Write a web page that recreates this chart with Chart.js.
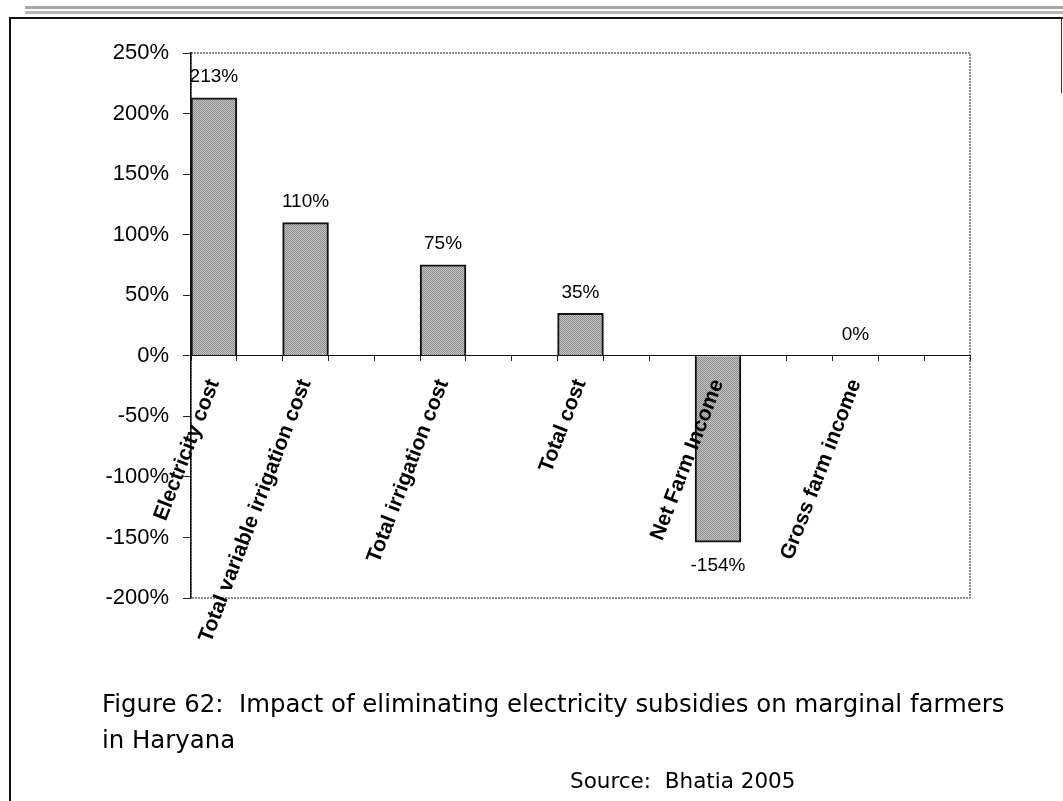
<!DOCTYPE html>
<html>
<head>
<meta charset="utf-8">
<script src="https://cdn.jsdelivr.net/npm/chart.js@4.4.1/dist/chart.umd.min.js"></script>
<style>
  html, body { margin: 0; padding: 0; background: #fff; }
  #wrap { position: relative; width: 1063px; height: 801px; overflow: hidden; }
  #chart { position: absolute; left: 0; top: 0; }
  .scanA { position: absolute; left: 25px; top: 6px; width: 1038px; height: 3px; background: #a5a5a5; }
  .scanB { position: absolute; left: 25px; top: 11px; width: 1038px; height: 3px; background: #b8b8b8; }
  .frameTop { position: absolute; left: 10px; top: 17px; width: 1053px; height: 2px; background: #111; }
  .frameLeft { position: absolute; left: 9px; top: 17px; width: 2px; height: 784px; background: #111; }
  .frameRight { position: absolute; left: 1061px; top: 17px; width: 1px; height: 76px; background: #333; }
  .caption { position: absolute; left: 102px; top: 686px; font-family: "Comic Sans MS", "DejaVu Sans", sans-serif;
             font-size: 24.4px; line-height: 36px; color: #000; white-space: nowrap; }
  .source { position: absolute; left: 570px; top: 768px; font-family: "Comic Sans MS", "DejaVu Sans", sans-serif;
            font-size: 21.5px; color: #000; white-space: nowrap; }
</style>
</head>
<body>
<div id="wrap">
  <div class="scanA"></div>
  <div class="scanB"></div>
  <div class="frameTop"></div>
  <div class="frameLeft"></div>
  <div class="frameRight"></div>
  <canvas id="chart" width="1063" height="801"></canvas>
  <div class="caption">Figure 62:&nbsp; Impact of eliminating electricity subsidies on marginal farmers<br>in Haryana</div>
  <div class="source">Source:&nbsp; Bhatia 2005</div>
</div>
<script>
// 17 category slots on the axis, only some carry a bar
var categories = ["Electricity cost", "", "Total variable irrigation cost", "", "", "Total irrigation cost", "", "",
                  "Total cost", "", "", "Net Farm Income", "", "", "Gross farm income", "", ""];
var impact = [213, null, 110, null, null, 75, null, null, 35, null, null, -154, null, null, 0, null, null];
var yMin = -200, yMax = 250, yStep = 50;

Chart.defaults.font.family = "'Liberation Sans', Arial, sans-serif";
Chart.defaults.color = "#000";

// halftone-like grey fill for the bars
function stipple() {
    var c = document.createElement('canvas');
    c.width = 2; c.height = 2;
    var g = c.getContext('2d');
    g.fillStyle = "#c6c6c6"; g.fillRect(0, 0, 2, 2);
    g.fillStyle = "#8a8a8a"; g.fillRect(0, 0, 1, 1); g.fillRect(1, 1, 1, 1);
    return g.createPattern(c, 'repeat');
}

// dotted frame around the plot
var plotBorder = {
    id: 'plotBorder',
    beforeDraw: function(chart) {
        var a = chart.chartArea, ctx = chart.ctx;
        ctx.save();
        ctx.strokeStyle = "#666";
        ctx.lineWidth = 1.5;
        ctx.setLineDash([2, 1]);
        ctx.strokeRect(a.left, a.top, a.right - a.left, a.bottom - a.top);
        ctx.restore();
    }
};

// value labels above / below the bars
var valueLabels = {
    id: 'valueLabels',
    afterDatasetsDraw: function(chart) {
        var ctx = chart.ctx;
        var meta = chart.getDatasetMeta(0);
        ctx.save();
        ctx.font = "19px 'Liberation Sans', Arial, sans-serif";
        ctx.fillStyle = "#000";
        ctx.textAlign = "center";
        ctx.textBaseline = "middle";
        meta.data.forEach(function(bar, i) {
            var v = impact[i];
            if (v === null) return;
            var y = v < 0 ? bar.y + 23 : bar.y - 21;
            ctx.fillText(v + "%", bar.x, y);
        });
        ctx.restore();
    }
};

new Chart(document.getElementById("chart"), {
    type: 'bar',
    data: {
        labels: categories,
        datasets: [{
            data: impact,
            backgroundColor: stipple(),
            borderColor: "#111",
            borderWidth: 2,
            barPercentage: 1,
            categoryPercentage: 1
        }]
    },
    options: {
        responsive: false,
        animation: false,
        layout: { padding: { top: 53, right: 93, bottom: 203, left: 0 } },
        plugins: {
            legend: { display: false },
            tooltip: { enabled: false }
        },
        scales: {
            x: {
                position: { y: 0 },
                offset: true,
                grid: { drawOnChartArea: false, offset: true, tickLength: 5, color: "#222" },
                border: { color: "#111", width: 1, z: 1 },
                ticks: {
                    z: 1,
                    autoSkip: false,
                    minRotation: 69,
                    maxRotation: 69,
                    padding: 15,
                    font: { size: 21, weight: 'bold' }
                }
            },
            y: {
                min: yMin,
                max: yMax,
                afterFit: function(scale) { scale.width = 191; },
                grid: { drawOnChartArea: false, tickLength: 8, color: "#222" },
                border: { color: "#111", width: 1.5 },
                ticks: {
                    stepSize: yStep,
                    padding: 14,
                    font: { size: 22 },
                    callback: function(v) { return v + "%"; }
                }
            }
        }
    },
    plugins: [plotBorder, valueLabels]
});
</script>
</body>
</html>
